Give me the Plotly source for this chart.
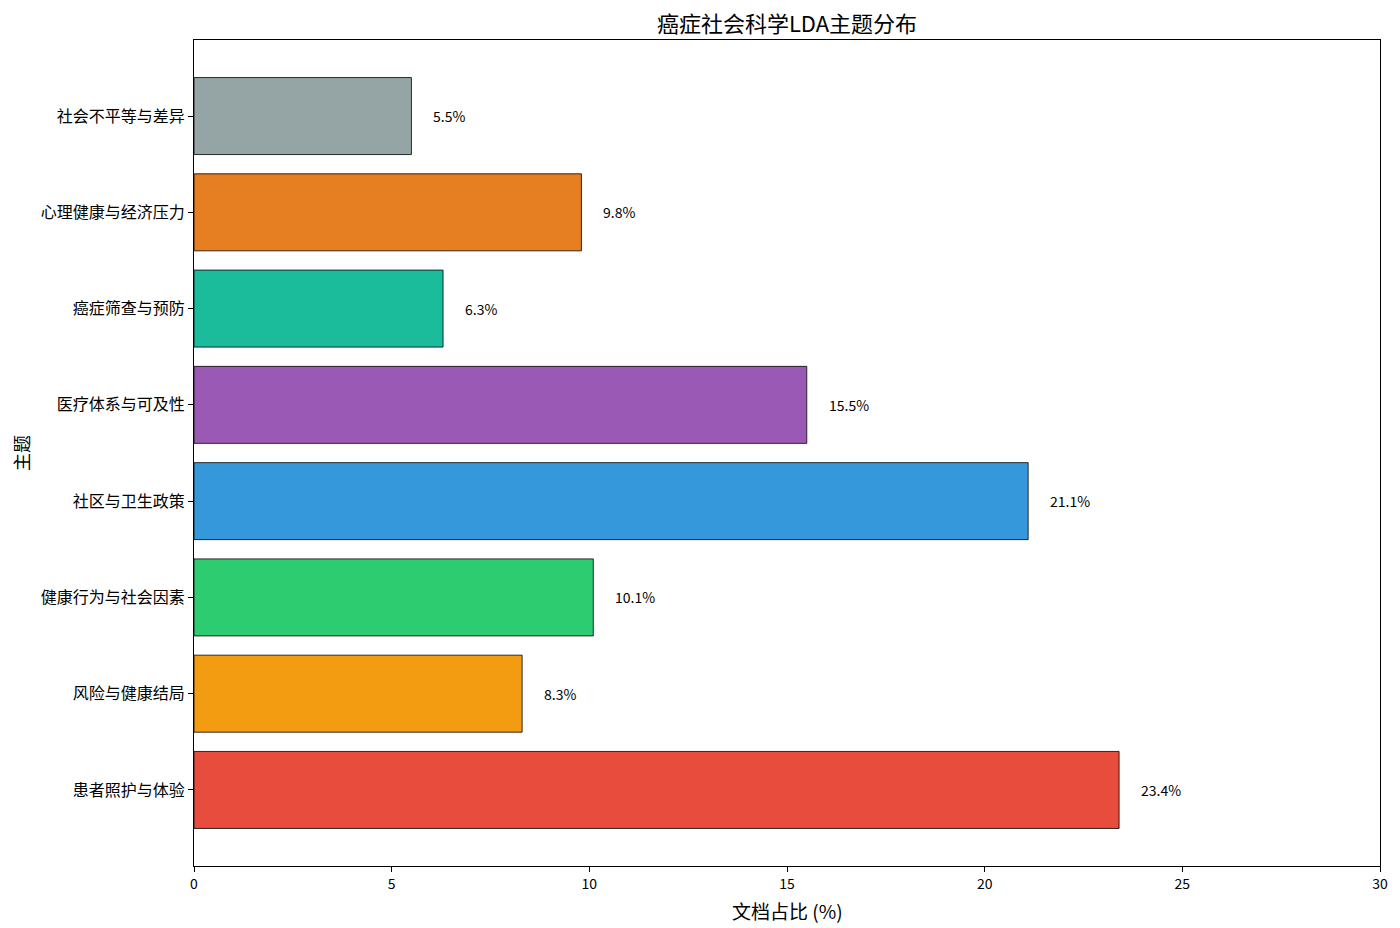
import plotly.graph_objects as go

topics = ["患者照护与体验", "风险与健康结局", "健康行为与社会因素", "社区与卫生政策",
          "医疗体系与可及性", "癌症筛查与预防", "心理健康与经济压力", "社会不平等与差异"]
shares = [23.4, 8.3, 10.1, 21.1, 15.5, 6.3, 9.8, 5.5]
colors = ["#e74c3c", "#f39c12", "#2ecc71", "#3498db",
          "#9b59b6", "#1abc9c", "#e67e22", "#95a5a6"]

font = "Noto Sans CJK SC, sans-serif"

fig = go.Figure()
fig.add_trace(go.Bar(
    x=shares, y=list(range(len(topics))), orientation="h", width=0.8,
    marker=dict(color=colors, line=dict(color="black", width=0.8)),
    hoverinfo="x",
))

for i, v in enumerate(shares):
    fig.add_annotation(x=v + 0.5, y=i, text="{:.1f}%".format(v), showarrow=False,
                       xanchor="left", yanchor="middle", font=dict(size=14, color="black"))

# x axis title as annotation so it sits below the tick labels without automargin
fig.add_annotation(text="文档占比 (%)", xref="paper", yref="paper", x=0.5, y=0,
                   xanchor="center", yanchor="top", yshift=-29, showarrow=False,
                   font=dict(size=19, color="black"))

# page has an 8px body margin, so the figure is a bit smaller than the window
fig.update_layout(
    width=1384, height=916,
    margin=dict(l=186, r=12, t=32, b=58),
    plot_bgcolor="white", paper_bgcolor="white",
    font=dict(family=font, color="black", size=14),
    showlegend=False,
    title=dict(text="癌症社会科学LDA主题分布", xref="paper", x=0.5, xanchor="center",
               yref="container", y=1 - 16 / 916, yanchor="middle", font=dict(size=22)),
    xaxis=dict(range=[0, 30], tickvals=[0, 5, 10, 15, 20, 25, 30], automargin=False,
               ticks="outside", ticklen=5, tickcolor="black", tickfont=dict(size=14),
               showgrid=False, zeroline=False, showline=True, linecolor="black",
               mirror=True, linewidth=1),
    yaxis=dict(range=[-0.79, 7.79], tickvals=list(range(len(topics))), ticktext=topics,
               automargin=False,
               ticks="outside", ticklen=5, tickcolor="black", tickfont=dict(size=16),
               showgrid=False, zeroline=False, showline=True, linecolor="black",
               mirror=True, linewidth=1,
               title=dict(text="主题", font=dict(size=18), standoff=8)),
)

fig.write_html("out.html")
